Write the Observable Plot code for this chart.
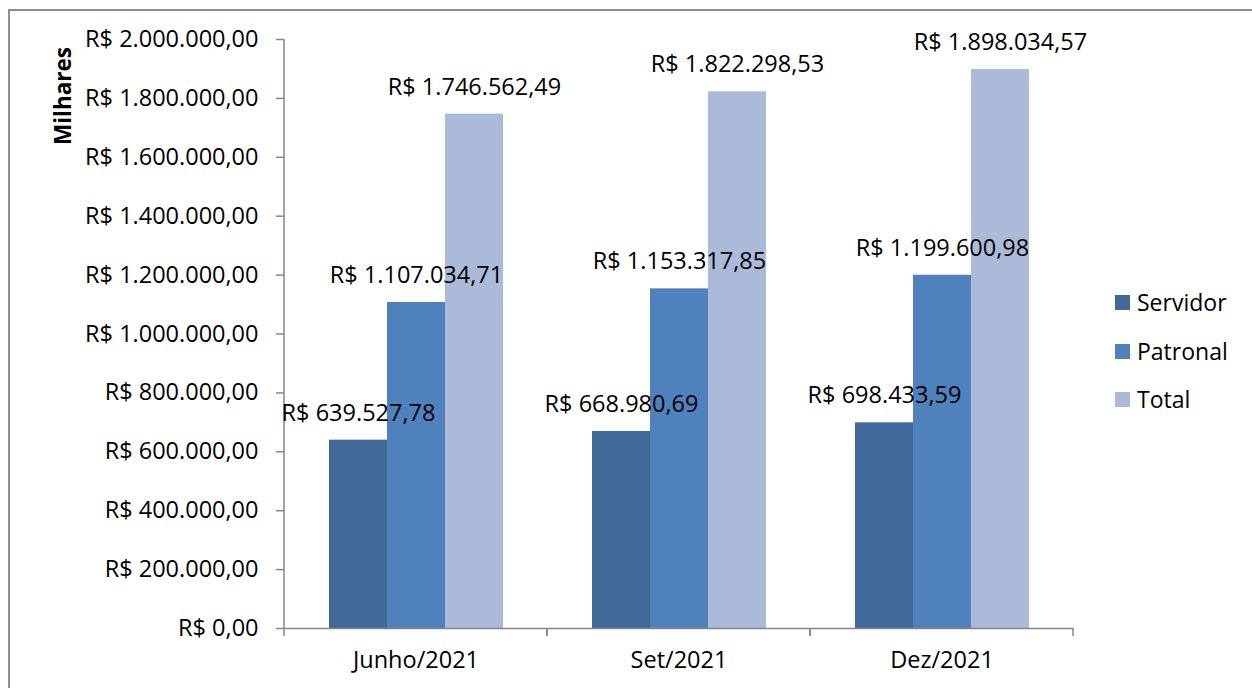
<!DOCTYPE html>
<html>
<head>
<meta charset="utf-8">
<script src="https://cdn.jsdelivr.net/npm/d3@7"></script>
<script src="https://cdn.jsdelivr.net/npm/@observablehq/plot@0.6"></script>
<style>
  html, body { margin: 0; padding: 0; background: white; }
  #wrap { position: relative; width: 1252px; height: 688px; overflow: hidden; font-family: "Open Sans", sans-serif; }
  #border { position: absolute; left: 8px; top: 9px; width: 1300px; height: 720px; border: 2px solid #8e8e8e; box-sizing: border-box; }
  #chart { position: absolute; left: 0; top: 0; }
  #ylabel { position: absolute; left: 62px; top: 96px; transform: translate(-50%, -50%) rotate(-90deg); font-weight: bold; font-size: 22.5px; white-space: nowrap; color: black; }
  #legend { position: absolute; left: 1115px; top: 0; font-size: 23px; color: black; }
  .item { position: absolute; left: 0; display: flex; align-items: center; white-space: nowrap; transform: translateY(-50%); }
  .sw { width: 15px; height: 15px; margin-right: 7px; }
</style>
</head>
<body>
<div id="wrap">
  <div id="border"></div>
  <div id="chart"></div>
  <div id="ylabel">Milhares</div>
  <div id="legend"></div>
</div>
<script>
const categories = ["Junho/2021", "Set/2021", "Dez/2021"];
const series = ["Servidor", "Patronal", "Total"];
const servidor = [639527.78, 668980.69, 698433.59];
const patronal = [1107034.71, 1153317.85, 1199600.98];
const total = [1746562.49, 1822298.53, 1898034.57];
const yTicks = [0, 200000, 400000, 600000, 800000, 1000000, 1200000, 1400000, 1600000, 1800000, 2000000];
const colors = ["#41699a", "#4f81bd", "#aabad8"];

const locale = d3.formatLocale({decimal: ",", thousands: ".", grouping: [3], currency: ["R$ ", ""]});
const fmt = locale.format("$,.2f");

const valuesBySeries = [servidor, patronal, total];
const rows = [];
categories.forEach((c, i) => {
  series.forEach((s, j) => rows.push({cat: c, series: s, value: valuesBySeries[j][i]}));
});

const gray = "#868686";
const FS = 23.5;

function boundaryTicks(index, scales, values, dims) {
  const g = d3.create("svg:g");
  const [a, b] = scales.x.range();
  const y0 = scales.y(0);
  for (const xx of [a, b]) {
    g.append("line").attr("x1", xx).attr("x2", xx).attr("y1", y0).attr("y2", y0 + 8)
      .attr("stroke", gray).attr("stroke-width", 1.5);
  }
  return g.node();
}

function yAxisLine(index, scales, values, dims) {
  const g = d3.create("svg:g");
  if (index.length) {
    const [a] = scales.x.range();
    g.append("line").attr("x1", a).attr("x2", a)
      .attr("y1", scales.y(yTicks[yTicks.length - 1])).attr("y2", scales.y(0))
      .attr("stroke", gray).attr("stroke-width", 1.5);
  }
  return g.node();
}

const chart = Plot.plot({
  width: 1252,
  height: 688,
  marginLeft: 284,
  marginRight: 179,
  marginTop: 39,
  marginBottom: 60,
  style: {fontFamily: "Open Sans", fontSize: FS + "px", color: "black", background: "transparent"},
  fx: {domain: categories, padding: 0, label: null},
  x: {domain: series, paddingInner: 0, paddingOuter: 0.73, axis: null},
  y: {domain: [0, 2000000], label: null},
  color: {domain: series, range: colors},
  marks: [
    Plot.barY(rows, {fx: "cat", x: "series", y: "value", fill: "series"}),
    Plot.ruleY([0], {stroke: gray, strokeWidth: 1.5}),
    Plot.axisY({ticks: yTicks, tickFormat: fmt, tickSize: 8, tickPadding: 18, stroke: gray, strokeWidth: 1.5, fill: "black", fontSize: FS, label: null}),
    Plot.ruleY([{cat: categories[0]}], {fx: "cat", y: () => 0, render: yAxisLine}),
    Plot.axisFx({anchor: "bottom", tickSize: 0, tickPadding: 23, fill: "black", fontSize: FS, label: null}),
    boundaryTicks,
    Plot.text(rows, {fx: "cat", x: "series", y: "value", text: d => fmt(d.value), dy: -27, fontSize: FS, fill: "black"})
  ]
});
document.getElementById("chart").appendChild(chart);

const legend = document.getElementById("legend");
const legendY = [302, 351, 399];
series.forEach((s, i) => {
  const it = document.createElement("div");
  it.className = "item";
  it.style.top = legendY[i] + "px";
  it.innerHTML = `<div class="sw" style="background:${colors[i]}"></div><span>${s}</span>`;
  legend.appendChild(it);
});
</script>
</body>
</html>
